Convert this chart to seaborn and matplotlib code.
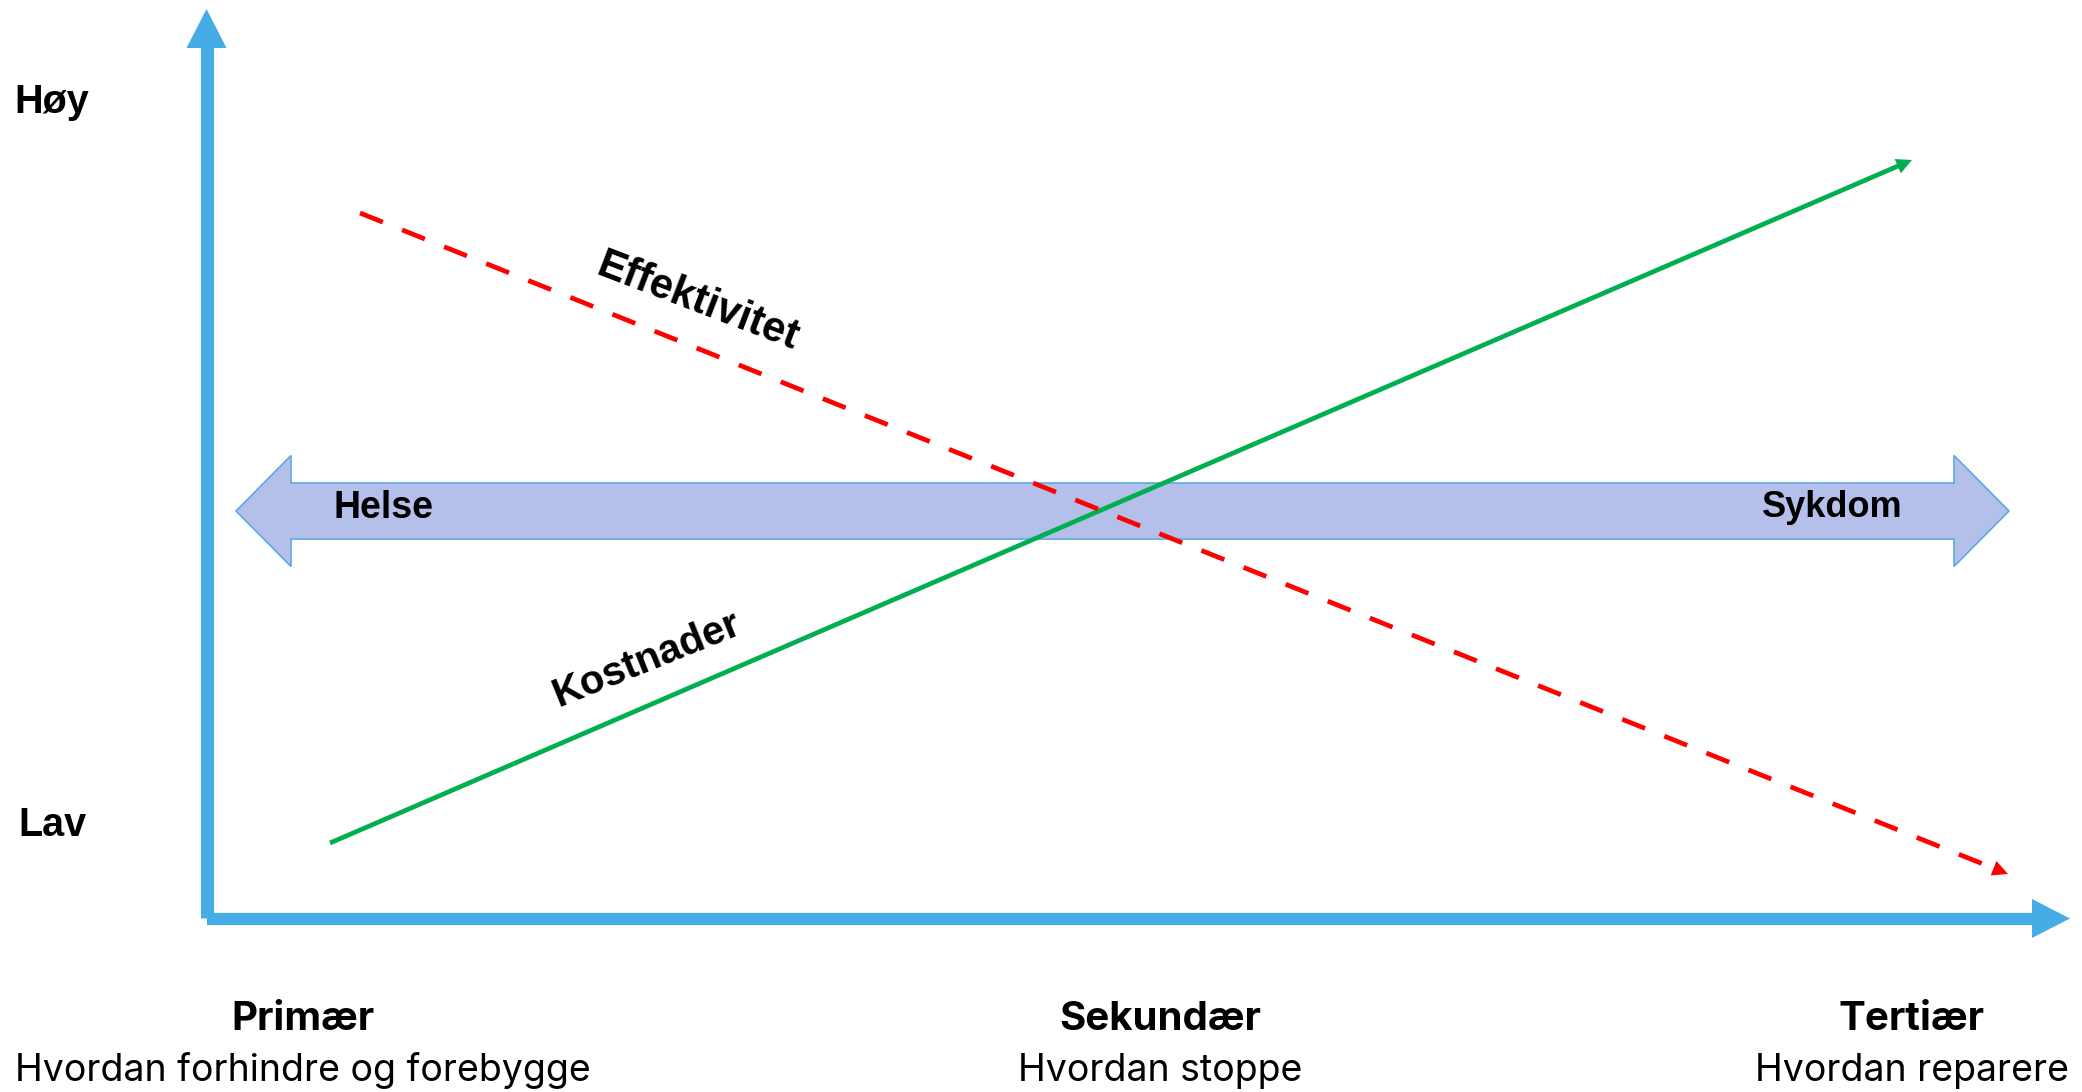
import numpy as np
import matplotlib
matplotlib.use("Agg")
import matplotlib.pyplot as plt
import seaborn as sns

# --- content -------------------------------------------------------------
level_labels = ["Høy", "Lav"]
level_y = [113, 836]                      # baselines of the level labels

stage_titles = ["Primær", "Sekundær", "Tertiær"]
stage_texts = ["Hvordan forhindre og forebygge", "Hvordan stoppe", "Hvordan reparere"]
stage_x = [303, 1160, 1912]

band_labels = ["Helse", "Sykdom"]

# Cost rises and effectiveness falls from primary to tertiary prevention
cost_x = [330, 1912]
cost_y = [843, 160]
effect_x = [360, 2008]
effect_y = [213, 874]

# --- styling -------------------------------------------------------------
W, H = 2082, 1092
AXIS_BLUE = "#45ACE6"
BAND_FILL = "#B4C0EA"
BAND_EDGE = "#5FA8E3"
GREEN = "#00B050"
RED = "#FF0000"

sns.set_theme(style="white")
plt.rcParams["font.family"] = ["Liberation Sans", "DejaVu Sans"]

fig = plt.figure(figsize=(W / 100, H / 100), dpi=100)
ax = fig.add_axes([0, 0, 1, 1])
ax.set_xlim(0, W)
ax.set_ylim(H, 0)
ax.set_axis_off()

# --- blue axes with arrow heads -----------------------------------------
ax.plot([206.5, 206.5], [918, 46], color=AXIS_BLUE, lw=9.4,
        solid_capstyle="butt", zorder=1)
ax.fill([186.5, 226.5, 206.5], [48, 48, 9], color=AXIS_BLUE, lw=0, zorder=1)
ax.plot([207, 2034], [919, 919], color=AXIS_BLUE, lw=8.8,
        solid_capstyle="butt", zorder=1)
ax.fill([2032, 2032, 2070], [899, 938, 918.5], color=AXIS_BLUE, lw=0, zorder=1)

# --- health / disease double arrow --------------------------------------
bl, br, hl, cy, bh, hh = 236, 2009, 55, 511, 28, 55.5
band_px = [bl, bl + hl, bl + hl, br - hl, br - hl, br, br - hl, br - hl, bl + hl, bl + hl, bl]
band_py = [cy, cy - hh, cy - bh, cy - bh, cy - hh, cy, cy + hh, cy + bh, cy + bh, cy + hh, cy]
ax.fill(band_px, band_py, facecolor=BAND_FILL, edgecolor=BAND_EDGE, lw=1.2, zorder=2)

ax.text(333, 518, band_labels[0], ha="left", va="baseline",
        fontsize=27, fontweight="bold", color="black", zorder=5)
ax.text(1832, 517, band_labels[1], ha="center", va="baseline",
        fontsize=26, fontweight="bold", color="black", zorder=5)


def trend_line(xs, ys, color, dashed=False):
    """Draw a trend line with seaborn and finish it with an arrow head."""
    xs = np.asarray(xs, float)
    ys = np.asarray(ys, float)
    d = np.array([xs[-1] - xs[0], ys[-1] - ys[0]])
    u = d / np.hypot(*d)
    shaft_x = [xs[0], xs[-1] - 10 * u[0]]
    shaft_y = [ys[0], ys[-1] - 10 * u[1]]
    sns.lineplot(x=shaft_x, y=shaft_y, ax=ax, color=color, lw=3.4,
                 sort=False, estimator=None, zorder=4)
    line = ax.lines[-1]
    line.set_solid_capstyle("butt")
    if dashed:
        line.set_dashes([5.2, 4.4])
        line.set_dash_capstyle("butt")
    ax.annotate("", xy=(xs[-1], ys[-1]),
                xytext=(xs[-1] - 40 * u[0], ys[-1] - 40 * u[1]),
                arrowprops=dict(arrowstyle="-|>", mutation_scale=28,
                                color=color, lw=0, shrinkA=0, shrinkB=0),
                zorder=4)


trend_line(cost_x, cost_y, GREEN)
trend_line(effect_x, effect_y, RED, dashed=True)

ax.text(698, 302, "Effektivitet", rotation=-21, rotation_mode="anchor",
        ha="center", va="center", fontsize=30, fontweight="bold", color="black")
ax.text(646, 660, "Kostnader", rotation=22, rotation_mode="anchor",
        ha="center", va="center", fontsize=29, fontweight="bold", color="black")

# --- level labels ---------------------------------------------------------
for lab, y in zip(level_labels, level_y):
    ax.text(52, y, lab, ha="center", va="baseline", fontsize=28.5,
            fontweight="bold", color="black")

# --- stage labels ---------------------------------------------------------
for title, desc, x in zip(stage_titles, stage_texts, stage_x):
    ax.text(x, 1030, title, ha="center", va="baseline", fontsize=29,
            fontweight="bold", color="black", family=["Inter", "DejaVu Sans"])
    ax.text(x, 1081, desc, ha="center", va="baseline", fontsize=27,
            color="black", family=["Inter", "DejaVu Sans"])

fig.savefig("out.png", dpi=100, facecolor="white")
